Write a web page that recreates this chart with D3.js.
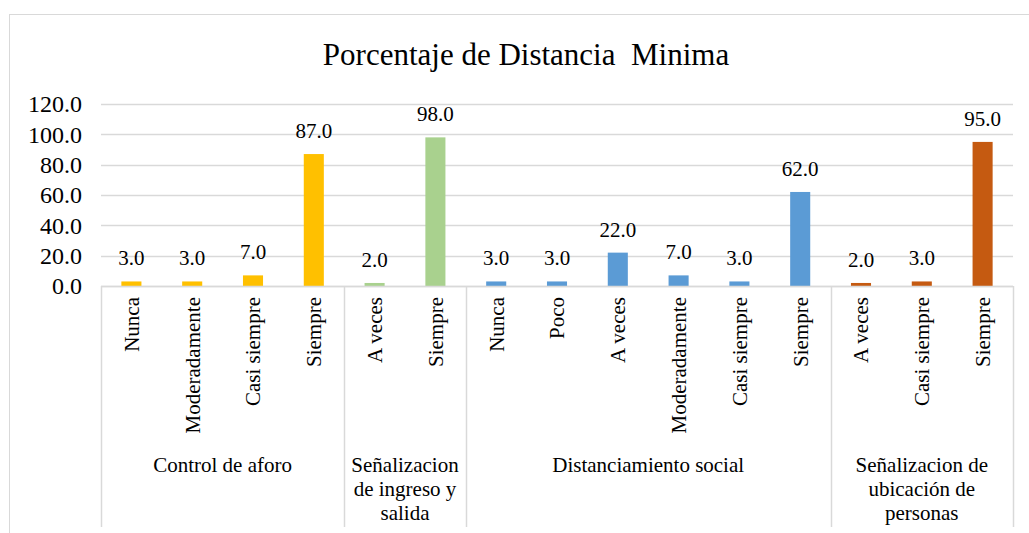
<!DOCTYPE html>
<html>
<head>
<meta charset="utf-8">
<script src="https://cdn.jsdelivr.net/npm/d3@7"></script>
<style>
  body { margin: 0; background: #fff; }
  text { font-family: "Times New Roman", "Liberation Serif", serif; fill: #000; }
</style>
</head>
<body>
<div id="mainDiv"></div>
<script>
// chart data
var groupLabels = ["Control de aforo", "Señalizacion\nde ingreso y\nsalida", "Distanciamiento social", "Señalizacion de\nubicación de\npersonas"];
var groupColors = ["#FFC000", "#A9D18E", "#5B9BD5", "#C55A11"];
var categories = [
    ["Nunca", "Moderadamente", "Casi siempre", "Siempre"],
    ["A veces", "Siempre"],
    ["Nunca", "Poco", "A veces", "Moderadamente", "Casi siempre", "Siempre"],
    ["A veces", "Casi siempre", "Siempre"]
];
var values = [
    [3, 3, 7, 87],
    [2, 98],
    [3, 3, 22, 7, 3, 62],
    [2, 3, 95]
];
var yTicks = [0, 20, 40, 60, 80, 100, 120];

// flatten into one row per bar
var rows = [];
categories.forEach(function(cats, g) {
    cats.forEach(function(c, i) {
        rows.push({ id: rows.length, group: g, label: c, value: values[g][i] });
    });
});

var width = 1029, height = 533;
var plotLeft = 101, plotRight = 1013, plotTop = 104, plotBottom = 286;

var svg = d3.select("#mainDiv").append("svg")
    .attr("width", width).attr("height", height);

// chart border
svg.append("rect")
    .attr("x", 9.5).attr("y", 14.5)
    .attr("width", 1040).attr("height", 540)
    .attr("fill", "#fff").attr("stroke", "#D9D9D9");

var x = d3.scaleBand()
    .domain(rows.map(function(d) { return d.id; }))
    .range([plotLeft, plotRight])
    .paddingInner(0.67).paddingOuter(0.335);

var y = d3.scaleLinear().domain([0, 120]).range([plotBottom, plotTop]);

// title
svg.append("text")
    .attr("x", (plotLeft + plotRight) / 2 - 31)
    .attr("y", 65)
    .attr("text-anchor", "middle")
    .style("font-size", "31px")
    .style("white-space", "pre")
    .text("Porcentaje de Distancia  Minima");

// gridlines
svg.append("g")
    .selectAll("line")
    .data(yTicks)
    .join("line")
    .attr("x1", plotLeft).attr("x2", plotRight)
    .attr("y1", function(d) { return Math.round(y(d)) + 0.5; })
    .attr("y2", function(d) { return Math.round(y(d)) + 0.5; })
    .attr("stroke", "#D9D9D9").attr("stroke-width", 1.5);

// y axis labels
var yAxis = svg.append("g")
    .attr("transform", "translate(" + (plotLeft - 19) + ",0)")
    .call(d3.axisLeft(y).tickValues(yTicks).tickSize(0).tickFormat(d3.format(".1f")));
yAxis.select(".domain").remove();
yAxis.selectAll("text")
    .attr("x", 0)
    .style("font-size", "24px")
    .style("font-family", "'Times New Roman', 'Liberation Serif', serif");

// bars
svg.append("g")
    .selectAll("rect")
    .data(rows)
    .join("rect")
    .attr("x", function(d) { return x(d.id); })
    .attr("width", x.bandwidth())
    .attr("y", function(d) { return y(d.value); })
    .attr("height", function(d) { return y(0) - y(d.value); })
    .attr("fill", function(d) { return groupColors[d.group]; });

// value labels
svg.append("g")
    .selectAll("text")
    .data(rows)
    .join("text")
    .attr("x", function(d) { return x(d.id) + x.bandwidth() / 2; })
    .attr("y", function(d) { return y(d.value) - 16; })
    .attr("text-anchor", "middle")
    .style("font-size", "21px")
    .text(function(d) { return d3.format(".1f")(d.value); });

// category labels, rotated
svg.append("g")
    .selectAll("text")
    .data(rows)
    .join("text")
    .attr("transform", function(d) {
        return "translate(" + (x(d.id) + x.bandwidth() / 2) + ",297) rotate(-90)";
    })
    .attr("dy", "0.35em")
    .attr("text-anchor", "end")
    .style("font-size", "21px")
    .text(function(d) { return d.label; });

// group separators and group labels
var step = x.step();
var bounds = [plotLeft];
var count = 0;
categories.forEach(function(cats) {
    count += cats.length;
    bounds.push(plotLeft + count * step);
});

svg.append("line")
    .attr("x1", plotLeft).attr("x2", plotRight)
    .attr("y1", plotBottom + 0.5).attr("y2", plotBottom + 0.5)
    .attr("stroke", "#D9D9D9").attr("stroke-width", 1.5);

svg.append("g")
    .selectAll("line")
    .data(bounds)
    .join("line")
    .attr("x1", function(d) { return Math.round(d) + 0.5; })
    .attr("x2", function(d) { return Math.round(d) + 0.5; })
    .attr("y1", plotBottom).attr("y2", 527)
    .attr("stroke", "#D9D9D9").attr("stroke-width", 1.5);

groupLabels.forEach(function(label, g) {
    var cx = (bounds[g] + bounds[g + 1]) / 2;
    var t = svg.append("text")
        .attr("text-anchor", "middle")
        .style("font-size", "21px");
    label.split("\n").forEach(function(line, i) {
        t.append("tspan")
            .attr("x", cx)
            .attr("y", 472 + i * 24)
            .text(line);
    });
});
</script>
</body>
</html>
